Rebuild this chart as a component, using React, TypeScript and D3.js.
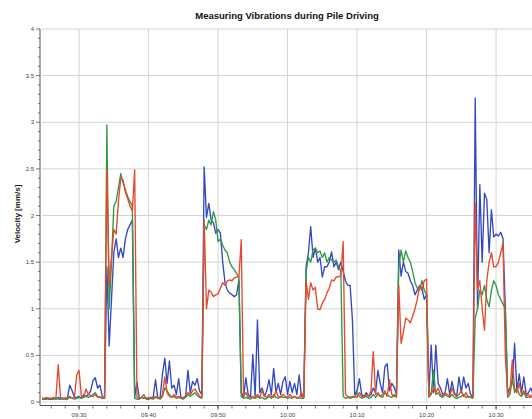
import React from 'react';
import * as d3 from 'd3';

const START_TIME = '09:24:40';
const END_TIME = '10:35:40';
const STEP_SECONDS = 20;

const title = 'Measuring Vibrations during Pile Driving';
const yLabel = 'Velocity [mm/s]';
const yTicks = [0, 0.5, 1, 1.5, 2, 2.5, 3, 3.5, 4];
const xTickLabels = ['09:30', '09:40', '09:50', '10:00', '10:10', '10:20', '10:30'];

const blueValues = [
  0.03,0.03,0.04,0.03,0.03,0.04,0.03,0.05,0.04,0.03,0.04,0.05,0.18,0.12,0.05,
  0.05,0.06,0.04,0.08,0.06,0.08,0.12,0.23,0.26,0.15,0.18,0.06,0.04,1.45,0.6,
  1.1,1.6,1.75,1.55,1.65,1.55,1.75,1.85,1.9,1.95,0.05,0.21,0.04,0.05,0.04,
  0.04,0.03,0.05,0.05,0.24,0.04,0.05,0.3,0.47,0.2,0.44,0.15,0.18,0.08,0.25,
  0.04,0.05,0.06,0.34,0.1,0.22,0.18,0.25,0.12,0.08,2.52,1.98,2.13,1.95,1.92,
  1.81,1.85,1.81,1.5,1.28,1.2,1.17,1.15,1.13,1.15,1.31,0.1,0.05,0.26,0.08,
  0.05,0.51,0.06,0.88,0.1,0.15,0.06,0.12,0.24,0.08,0.36,0.1,0.2,0.08,0.22,
  0.27,0.08,0.22,0.1,0.2,0.08,0.29,0.06,0.05,1.45,1.6,1.88,1.55,1.65,1.5,
  1.55,1.34,1.45,1.45,1.5,1.61,1.45,1.5,1.42,1.5,1.4,1.3,1.25,1.25,0.88,
  0.08,0.12,0.25,0.08,0.06,0.1,0.06,0.08,0.15,0.1,0.34,0.2,0.1,0.38,0.41,
  0.12,0.2,0.16,0.08,1.63,1.35,1.5,1.4,1.38,1.3,1.25,1.15,1.2,1.25,1.22,
  1.1,1.15,0.08,0.61,0.1,0.61,0.2,0.15,0.08,0.1,0.25,0.08,0.22,0.1,0.06,
  0.27,0.1,0.27,0.15,0.2,0.08,0.06,3.26,1.0,2.33,1.5,2.24,2.17,1.6,2.06,
  1.77,1.8,1.78,1.82,1.75,1.0,0.1,0.15,0.2,0.63,0.12,0.3,0.1,0.27,0.08,
  0.1,0.15,0.08,0.1,0.06,
];

const greenValues = [
  0.03,0.03,0.03,0.04,0.03,0.03,0.04,0.03,0.03,0.04,0.03,0.03,0.05,0.04,0.03,
  0.04,0.05,0.04,0.05,0.06,0.05,0.06,0.08,0.1,0.06,0.05,0.04,0.04,2.97,1.0,
  1.5,2.1,2.15,2.3,2.45,2.35,2.28,2.2,2.15,2.1,0.04,0.03,0.03,0.05,0.08,
  0.03,0.03,0.04,0.03,0.05,0.04,0.03,0.06,0.15,0.12,0.08,0.05,0.06,0.04,0.05,
  0.04,0.03,0.05,0.08,0.06,0.08,0.1,0.07,0.05,0.04,1.9,1.85,1.95,1.9,2.04,
  1.95,1.72,1.75,1.68,1.63,1.6,1.5,1.45,1.42,1.38,1.34,0.06,0.04,0.05,0.04,
  0.03,0.05,0.04,0.06,0.04,0.05,0.03,0.04,0.06,0.04,0.08,0.05,0.04,0.06,0.05,
  0.05,0.04,0.05,0.04,0.06,0.04,0.05,0.04,0.04,1.4,1.55,1.5,1.63,1.65,1.6,
  1.62,1.55,1.6,1.5,1.55,1.52,1.5,1.52,1.45,1.4,0.06,0.04,0.05,0.04,0.05,
  0.05,0.1,0.06,0.04,0.05,0.06,0.04,0.05,0.08,0.05,0.08,0.06,0.05,0.1,0.08,
  0.06,0.05,0.08,0.05,1.45,1.63,1.5,1.62,1.55,1.5,1.4,1.28,1.22,1.2,1.3,
  1.2,1.15,0.05,0.1,0.34,0.08,0.1,0.06,0.05,0.08,0.06,0.05,0.08,0.05,0.04,
  0.05,0.06,0.08,0.05,0.06,0.05,0.04,0.9,1.0,1.2,1.15,1.25,1.1,1.02,1.2,
  1.3,1.25,1.15,1.1,1.05,1.0,0.05,0.08,0.25,0.1,0.15,0.08,0.06,0.1,0.05,
  0.05,0.06,0.05,0.04,0.05,
];

const redValues = [
  0.04,0.04,0.05,0.04,0.04,0.05,0.04,0.4,0.05,0.04,0.04,0.05,0.06,0.04,0.05,
  0.29,0.34,0.06,0.05,0.14,0.08,0.07,0.06,0.08,0.05,0.06,0.04,0.05,2.49,1.25,
  1.55,1.85,1.8,2.15,2.4,2.38,2.25,2.18,2.1,2.05,2.49,0.05,0.04,0.05,0.04,
  0.04,0.05,0.04,0.04,0.06,0.05,0.04,0.08,0.27,0.1,0.06,0.05,0.08,0.05,0.06,
  0.05,0.04,0.06,0.1,0.08,0.12,0.14,0.1,0.06,0.05,1.95,1.0,1.2,1.18,1.13,
  1.15,1.16,1.22,1.28,1.25,1.3,1.31,1.3,1.33,1.34,1.34,1.74,0.06,0.1,0.05,
  0.05,0.06,0.04,0.08,0.05,0.12,0.06,0.05,0.08,0.06,0.05,0.12,0.06,0.05,0.08,
  0.06,0.05,0.08,0.05,0.06,0.05,0.04,0.1,0.05,1.3,1.1,1.28,1.2,1.23,1.0,
  0.99,1.06,1.1,1.17,1.22,1.31,1.3,1.34,1.34,1.36,1.72,0.08,0.06,0.05,0.06,
  0.06,0.05,0.1,0.06,0.05,0.08,0.06,0.12,0.54,0.08,0.1,0.06,0.08,0.12,0.06,
  0.24,0.08,0.06,0.06,1.25,0.63,0.75,0.9,0.88,0.85,0.92,1.0,1.1,1.25,1.2,
  1.3,1.32,0.06,0.08,0.15,0.1,0.15,0.08,0.06,0.1,0.08,0.06,0.15,0.08,0.06,
  0.08,0.12,0.06,0.1,0.05,0.06,0.05,2.14,1.2,1.3,1.0,0.77,1.3,1.5,1.6,
  1.45,1.45,1.5,1.6,1.7,0.5,0.08,0.1,0.45,0.15,0.1,0.2,0.08,0.12,0.06,
  0.08,0.05,0.1,0.06,0.05,
];

const seriesColors = { blue: '#3449bf', green: '#2f9a45', red: '#e6492c' };

const parseT = d3.timeParse('%H:%M:%S');
const parseHM = d3.timeParse('%H:%M');

export default function App() {
  const W = 532;
  const H = 419;
  const left = 42;
  const right = 535.45;
  const top = 29;
  const bottom = 402;
  const axisY = 405.5;
  const axisX = 40;

  const t0 = parseT(START_TIME) as Date;
  const t1 = parseT(END_TIME) as Date;
  const x = d3.scaleTime().domain([t0, t1]).range([left, right]);
  const y = d3.scaleLinear().domain([0, 4]).range([bottom, top]);

  const times = blueValues.map((_, i) => new Date(t0.getTime() + i * STEP_SECONDS * 1000));
  const line = d3
    .line<number>()
    .x((_, i) => x(times[i]))
    .y((v) => y(v));

  const majorX = xTickLabels.map((s) => parseHM(s) as Date);
  const minorX = d3.timeMinute.every(2)!.range(t0, t1);
  const minorY = d3.range(0, 41).map((k) => k / 10);

  const font = 'Liberation Sans, Arial, sans-serif';

  return (
    <svg
      width={W}
      height={H}
      style={{ position: 'absolute', left: 0, top: 0, background: '#fff' }}
    >
      <defs>
        <clipPath id="plot">
          <rect x={left} y={top - 1} width={W - left} height={bottom - top + 4} />
        </clipPath>
      </defs>
      <rect x={0} y={0} width={W} height={H} fill="#fff" />
      {yTicks.slice(1).map((v) => (
        <line key={'gy' + v} x1={left} x2={W} y1={y(v)} y2={y(v)} stroke="#d4d4d4" strokeWidth={1} />
      ))}
      <line x1={left} x2={W} y1={y(0)} y2={y(0)} stroke="#dcdcdc" strokeWidth={1} />
      {majorX.map((d, i) => (
        <line key={'gx' + i} x1={x(d)} x2={x(d)} y1={top} y2={bottom} stroke="#d4d4d4" strokeWidth={1} />
      ))}
      <g clipPath="url(#plot)" fill="none" strokeWidth={1.35} strokeLinejoin="round">
        <path d={line(blueValues) || ''} stroke={seriesColors.blue} />
        <path d={line(greenValues) || ''} stroke={seriesColors.green} />
        <path d={line(redValues) || ''} stroke={seriesColors.red} />
      </g>
      <line x1={axisX} x2={axisX} y1={top} y2={axisY} stroke="#555" strokeWidth={1} />
      {minorY.map((v) => (
        <line
          key={'my' + v}
          x1={axisX - (Math.round(v * 10) % 5 === 0 ? 4 : 2)}
          x2={axisX}
          y1={y(v)}
          y2={y(v)}
          stroke="#555"
          strokeWidth={0.8}
        />
      ))}
      {yTicks.map((v) => (
        <text
          key={'ty' + v}
          x={axisX - 6}
          y={y(v) + 2}
          textAnchor="end"
          fontSize={6}
          fontFamily={font}
          fill="#444"
        >
          {String(v)}
        </text>
      ))}
      <line x1={axisX} x2={W} y1={axisY} y2={axisY} stroke="#555" strokeWidth={1} />
      {minorX.map((d, i) => (
        <line key={'mx' + i} x1={x(d)} x2={x(d)} y1={axisY} y2={axisY + 3} stroke="#555" strokeWidth={0.8} />
      ))}
      {majorX.map((d, i) => (
        <g key={'tx' + i}>
          <line x1={x(d)} x2={x(d)} y1={axisY} y2={axisY + 4} stroke="#555" strokeWidth={1} />
          <text x={x(d)} y={417} textAnchor="middle" fontSize={6} fontFamily={font} fill="#444">
            {xTickLabels[i]}
          </text>
        </g>
      ))}
      <text x={287} y={19} textAnchor="middle" fontSize={9.5} fontWeight="bold" fontFamily={font} fill="#111">
        {title}
      </text>
      <text
        transform={`translate(20, 214) rotate(-90)`}
        textAnchor="middle"
        fontSize={8}
        fontWeight="bold"
        fontFamily={font}
        fill="#222"
      >
        {yLabel}
      </text>
    </svg>
  );
}
